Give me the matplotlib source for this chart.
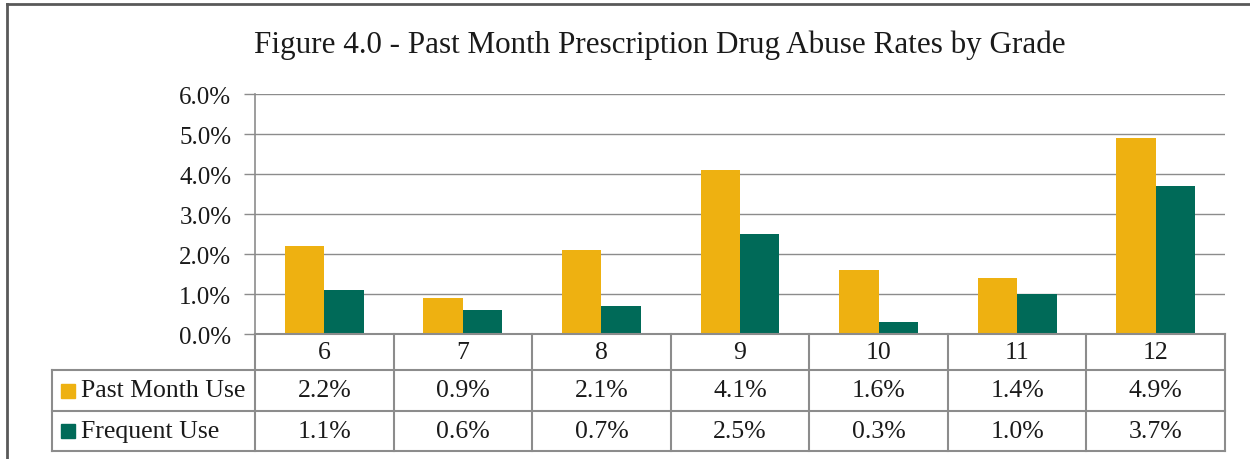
import numpy as np
import matplotlib.pyplot as plt
from matplotlib.lines import Line2D
from matplotlib.patches import Rectangle

plt.rcParams['font.family'] = ['Liberation Serif', 'DejaVu Serif']

grades = ['6', '7', '8', '9', '10', '11', '12']
past_month = [2.2, 0.9, 2.1, 4.1, 1.6, 1.4, 4.9]
frequent = [1.1, 0.6, 0.7, 2.5, 0.3, 1.0, 3.7]
series_names = ['Past Month Use', 'Frequent Use']
yticks = [0, 1, 2, 3, 4, 5, 6]

c_yellow = '#EEB111'
c_green = '#006A58'
c_grid = '#8c8c8c'
c_text = '#1a1a1a'

W, H = 1250, 460
fig = plt.figure(figsize=(W / 100, H / 100), dpi=100)

def fr(x0, y0, x1, y1):
    # pixel box (top-left origin) -> figure fraction rect
    return [x0 / W, 1 - y1 / H, (x1 - x0) / W, (y1 - y0) / H]

# outer border (top and left visible)
fig.add_artist(Line2D([7 / W, 7 / W], [0, 1 - 5 / H], color='#595959', lw=2))
fig.add_artist(Line2D([7 / W, 1], [1 - 5 / H, 1 - 5 / H], color='#595959', lw=2))

fig.text(660 / W, 1 - 45 / H,
         'Figure 4.0 - Past Month Prescription Drug Abuse Rates by Grade',
         ha='center', va='center', fontsize=22.4, color=c_text)

ax = fig.add_axes(fr(255, 95, 1225, 335))
x = np.arange(len(grades))
bw = 0.285
ax.bar(x - bw / 2, past_month, bw, color=c_yellow, zorder=3)
ax.bar(x + bw / 2, frequent, bw, color=c_green, zorder=3)
ax.set_xlim(-0.5, len(grades) - 0.5)
ax.set_ylim(0, 6)
ax.set_yticks(yticks)
ax.set_yticklabels([f'{v:.1f}%' for v in yticks], fontsize=18, color=c_text)
ax.set_xticks([])
ax.yaxis.grid(True, color=c_grid, lw=1, zorder=0)
for s in ['top', 'right', 'bottom']:
    ax.spines[s].set_visible(False)
ax.spines['left'].set_color(c_grid)
ax.spines['left'].set_linewidth(1.2)
ax.tick_params(axis='y', length=8, width=1, color=c_grid, pad=9)

# data table under the bars
tab = fig.add_axes(fr(52, 335, 1225, 452))
left_x = -0.5 - (255 - 52) / (970 / len(grades))
tab.set_xlim(left_x, len(grades) - 0.5)
tab.set_ylim(452, 335)
tab.axis('off')
lw = 1.5
fs = 18.5
tab.plot([-0.5, len(grades) - 0.5], [335, 335], color=c_grid, lw=lw, clip_on=False)
for yy in [371, 412, 452]:
    tab.plot([left_x, len(grades) - 0.5], [yy, yy], color=c_grid, lw=lw, clip_on=False)
for k in range(len(grades) + 1):
    tab.plot([k - 0.5, k - 0.5], [335, 452], color=c_grid, lw=lw, clip_on=False)
tab.plot([left_x, left_x], [371, 452], color=c_grid, lw=lw, clip_on=False)

for i, g in enumerate(grades):
    tab.text(i, 353, g, ha='center', va='center', fontsize=fs, color=c_text)
    tab.text(i, 391.5, f'{past_month[i]:.1f}%', ha='center', va='center', fontsize=fs, color=c_text)
    tab.text(i, 432, f'{frequent[i]:.1f}%', ha='center', va='center', fontsize=fs, color=c_text)

px = 970 / len(grades)
for name, col, yc in [(series_names[0], c_yellow, 391.5), (series_names[1], c_green, 432)]:
    sq = 14 / px
    tab.add_patch(Rectangle((left_x + 9 / px, yc - 7), sq, 14, color=col, clip_on=False))
    tab.text(left_x + 29 / px, yc, name, ha='left', va='center', fontsize=fs, color=c_text)

fig.savefig('out.png', dpi=100)
